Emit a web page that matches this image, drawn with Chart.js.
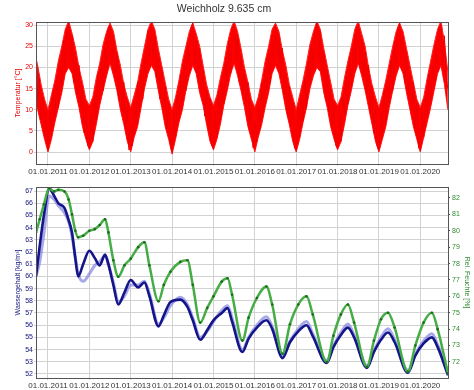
<!DOCTYPE html>
<html>
<head>
<meta charset="utf-8">
<script src="https://cdn.jsdelivr.net/npm/chart.js@4/dist/chart.umd.min.js"></script>
<style>
  body { margin: 0; background: #fff; }
  #wrap { position: relative; width: 474px; height: 390px; }
  canvas { position: absolute; left: 0; }
  #temp { top: 0; }
  #moist { top: 180px; }
</style>
</head>
<body>
<div id="wrap">
  <canvas id="temp" width="474" height="180"></canvas>
  <canvas id="moist" width="474" height="210"></canvas>
</div>
<script>
const title = 'Weichholz 9.635 cm';
const years = [2011, 2012, 2013, 2014, 2015, 2016, 2017, 2018, 2019, 2020];

// temperature, half-monthly readings starting mid September 2010
const tempStart = 2010 + 17 / 24;
const tempStep = 1 / 24;
const temperature = [
  21.5, 12.5, 17.5, 7.5, 13, 3.5, 9.5,
  0.5, 9.5, 3.5, 14.5, 8.5, 17.5, 10.5, 20.5, 15.5, 26.5, 19.5, 28.5, 30.5, 21.5, 27.5, 16.5, 22.5, 13.5, 20.5, 10.5, 15.5, 4.5, 10.5, 1.5,
  1, 9.5, 2.5, 13.5, 7.5, 18.5, 12.5, 21.5, 14.5, 24.5, 19.5, 29.5, 30, 20.5, 27.5, 18.5, 23.5, 12.5, 18.5, 9.5, 16.5, 5.5, 10.5, 0.5,
  6.5, 1.5, 11.5, 6.5, 16.5, 9.5, 19.5, 12.5, 22.5, 17.5, 28.5, 22.5, 30, 21.5, 27.5, 17.5, 22.5, 12.5, 19.5, 10.5, 15.5, 5.5, 11.5, 1.5,
  0, 9.5, 3.5, 13.5, 8.5, 18.5, 11.5, 20.5, 14.5, 25.5, 20.5, 29.5, 30.5, 20.5, 26.5, 17.5, 24.5, 14.5, 19.5, 8.5, 14.5, 5.5, 12.5, 1.5,
  1.5, 9.5, 3.5, 14.5, 7.5, 16.5, 11.5, 21.5, 16.5, 26.5, 18.5, 29.5, 30, 21.5, 27.5, 16.5, 22.5, 13.5, 19.5, 10.5, 16.5, 5.5, 10.5, 1,
  7.5, 2.5, 10.5, 5.5, 16.5, 9.5, 19.5, 14.5, 23.5, 16.5, 27.5, 21.5, 30, 22.5, 27.5, 17.5, 24.5, 13.5, 18.5, 8.5, 15.5, 6.5, 11.5, 1,
  0.5, 10.5, 3.5, 12.5, 7.5, 17.5, 10.5, 21.5, 16.5, 25.5, 19.5, 28.5, 30.5, 21.5, 28.5, 18.5, 23.5, 12.5, 19.5, 9.5, 14.5, 5.5, 11.5, 1.5,
  1, 9.5, 2.5, 13.5, 8.5, 17.5, 11.5, 22.5, 15.5, 24.5, 19.5, 29.5, 30, 20.5, 26.5, 17.5, 23.5, 14.5, 20.5, 9.5, 15.5, 4.5, 10.5, 1.5,
  0.5, 9.5, 3.5, 14.5, 7.5, 16.5, 11.5, 21.5, 14.5, 25.5, 20.5, 29.5, 30.5, 21.5, 27.5, 16.5, 23.5, 13.5, 18.5, 9.5, 16.5, 5.5, 11.5, 1,
  0.5, 9.5, 3.5, 13.5, 8.5, 18.5, 11.5, 20.5, 15.5, 25.5, 19.5, 29.5, 30, 20.5, 27.5, 17.5, 15
];

// daily range of the temperature, monthly from 01.09.2010
const rangeStart = 2010 + 8 / 12;
const rangeStep = 1 / 12;
const tempHigh = [
  24, 20.5, 16, 12.5,
  10, 13.5, 17, 21.5, 25, 29, 31, 28, 24.5, 20, 16.5, 12.5,
  11, 13, 17.5, 21, 25.5, 28.5, 30.5, 28.5, 24, 20.5, 16, 13,
  10.5, 13.5, 16.5, 21, 25, 29, 31, 29, 24.5, 20.5, 16.5, 12.5,
  10, 13, 17, 21.5, 25, 28.5, 30.5, 28, 25, 20.5, 16, 13,
  11, 13.5, 17.5, 21, 25.5, 29, 31, 28.5, 24.5, 20, 16.5, 12.5,
  10.5, 13, 17, 21.5, 25, 29, 30.5, 28.5, 24, 20.5, 16, 13,
  10, 13.5, 17, 21, 25.5, 28.5, 31, 29, 24.5, 20.5, 16.5, 12.5,
  11, 13, 17.5, 21.5, 25, 29, 31, 28, 25, 20, 16, 13,
  10.5, 13.5, 17, 21, 25, 28.5, 30.5, 28.5, 24.5, 20.5, 16.5, 12.5,
  10.5, 13, 17.5, 21.5, 25.5, 29, 31, 26, 19
];
const tempLow = [
  14, 10, 6.5, 3,
  0, 3, 7, 10.5, 14, 18.5, 20, 18.5, 14, 10.5, 6, 3,
  0.5, 2.5, 6.5, 11, 14.5, 18, 21, 18, 14.5, 10, 6.5, 2.5,
  0, 3.5, 6, 10.5, 15, 18.5, 20.5, 19, 14.5, 10.5, 6, 3,
  -0.5, 3, 7, 10, 14.5, 18, 20.5, 18.5, 14, 11, 6.5, 2.5,
  0.5, 3, 6.5, 11, 14.5, 18.5, 21, 18, 14.5, 10.5, 6, 3,
  0, 3.5, 6.5, 10.5, 14, 18.5, 20.5, 18.5, 14.5, 10, 6.5, 2.5,
  0, 3, 7, 10.5, 15, 18, 20, 19, 14, 10.5, 6, 3,
  0.5, 2.5, 6.5, 11, 14.5, 18.5, 21, 18, 14.5, 10.5, 6.5, 2.5,
  0, 3, 6, 10.5, 14.5, 18, 20.5, 18.5, 14, 10, 6, 3,
  0, 3.5, 7, 10.5, 14.5, 18.5, 20.5, 16, 10
];

// moisture / humidity, times in decimal years
const moistTime = [
  2010.71, 2010.80, 2010.90, 2011.03, 2011.15, 2011.25, 2011.40, 2011.50, 2011.58, 2011.66,
  2011.73, 2011.85, 2012.00, 2012.13, 2012.25, 2012.38, 2012.46, 2012.58, 2012.70, 2012.85,
  2013.00, 2013.18, 2013.33, 2013.45, 2013.67, 2013.80, 2013.96, 2014.20, 2014.37, 2014.50,
  2014.68, 2014.85, 2015.00, 2015.20, 2015.34, 2015.45, 2015.70, 2015.85, 2016.05, 2016.28,
  2016.42, 2016.67, 2016.85, 2017.05, 2017.25, 2017.40, 2017.74, 2017.90, 2018.08, 2018.25,
  2018.40, 2018.71, 2018.88, 2019.05, 2019.22, 2019.38, 2019.70, 2019.88, 2020.08, 2020.28,
  2020.42, 2020.67
];
const waterContent = [
  60.0, 62.5, 65.0, 67.2, 66.6, 66.0, 65.6, 64.6, 63.6, 61.5,
  60.0, 61.0, 62.1, 61.5, 60.9, 61.8, 61.0, 59.3, 57.7, 58.7,
  59.7, 59.1, 59.5, 58.4, 55.9, 56.8, 57.9, 58.1, 57.5, 56.4,
  54.8, 55.6, 56.4, 57.0, 57.4, 56.3, 53.8, 54.9, 55.8, 56.4,
  55.7, 53.3, 54.6, 55.5, 56.0, 55.1, 52.9, 54.2, 55.2, 55.8,
  55.0, 52.5, 53.8, 54.8, 55.4, 54.6, 52.1, 53.5, 54.5, 55.0,
  54.2, 51.9
];
const waterContent2 = [
  60.0, 61.2, 63.5, 66.6, 66.3, 65.8, 65.2, 64.5, 63.3, 61.6,
  60.2, 59.6, 60.2, 60.9, 61.2, 61.7, 61.0, 59.5, 57.9, 58.4,
  59.3, 59.3, 59.6, 58.6, 56.1, 56.6, 57.6, 58.3, 57.7, 56.6,
  55.0, 55.5, 56.3, 57.2, 57.6, 56.6, 54.0, 55.0, 56.0, 56.7,
  55.9, 53.5, 54.7, 55.7, 56.3, 55.3, 53.1, 54.3, 55.4, 56.1,
  55.2, 52.7, 53.9, 55.0, 55.7, 54.8, 52.3, 53.6, 54.7, 55.3,
  54.4, 52.1
];
const relHumidity = [
  79.9, 80.7, 81.6, 82.6, 82.4, 82.5, 82.4, 81.9, 81.0, 80.0,
  79.6, 79.7, 80.0, 80.1, 80.35, 80.7, 79.9, 78.2, 77.2, 77.9,
  78.3, 79.0, 79.3, 77.9, 75.7, 76.7, 77.5, 78.1, 78.2, 76.7,
  74.4, 75.3, 76.0, 76.9, 77.1, 76.1, 73.3, 74.7, 75.9, 76.6,
  75.5, 72.5, 74.3, 75.5, 76.0, 74.9, 72.0, 73.6, 74.9, 75.5,
  74.4, 71.7, 73.3, 74.6, 75.0, 74.1, 71.4, 73.0, 74.4, 75.0,
  74.0, 71.3
];
const tempTicks = [0, 5, 10, 15, 20, 25, 30];
const waterTicks = [52, 53, 54, 55, 56, 57, 58, 59, 60, 61, 62, 63, 64, 65, 66, 67];
const humidityTicks = [72, 73, 74, 75, 76, 77, 78, 79, 80, 81, 82];

Chart.defaults.font.family = '"Liberation Sans", Arial, sans-serif';

const frame = {
  id: 'frame',
  afterDraw(chart) {
    const { ctx, chartArea: a } = chart;
    ctx.save();
    ctx.strokeStyle = '#555';
    ctx.lineWidth = 1;
    ctx.strokeRect(Math.round(a.left) + 0.5, Math.round(a.top) + 0.5,
      Math.round(a.right - a.left), Math.round(a.bottom - a.top));
    ctx.restore();
  }
};

const xAxis = (height) => ({
  type: 'linear',
  min: 2010.71,
  max: 2020.67,
  afterBuildTicks: s => { s.ticks = years.map(v => ({ value: v })); },
  afterFit: s => { s.height = height; },
  grid: { color: '#d2d2d2', tickLength: 2 },
  border: { color: '#555' },
  ticks: {
    autoSkip: false, maxRotation: 0, padding: 1,
    font: { size: 8 }, color: '#333',
    callback: v => '01.01.' + v
  }
});

const pts = (xs, ys) => ys.map((y, i) => ({ x: xs[i], y }));
const series = (start, step, ys) => ys.map((y, i) => ({ x: start + i * step, y }));

new Chart(document.getElementById('temp').getContext('2d'), {
  type: 'line',
  data: {
    datasets: [{
      label: 'Temperatur',
      data: series(tempStart, tempStep, temperature),
      borderColor: '#f00000',
      borderWidth: 1,
      pointRadius: 0,
      tension: 0
    }, {
      label: 'max',
      data: series(rangeStart, rangeStep, tempHigh),
      borderColor: '#ff2020',
      backgroundColor: '#ff0000',
      borderWidth: 1,
      pointRadius: 0,
      fill: '+1',
      tension: 0
    }, {
      label: 'min',
      data: series(rangeStart, rangeStep, tempLow),
      borderColor: '#ff2020',
      borderWidth: 1,
      pointRadius: 0,
      tension: 0
    }]
  },
  options: {
    responsive: false,
    animation: false,
    devicePixelRatio: 1,
    layout: { padding: { left: 0, right: 26, top: 0, bottom: 0 } },
    plugins: {
      legend: { display: false },
      tooltip: { enabled: false },
      title: {
        display: true, text: title, color: '#333',
        font: { size: 10.5, weight: 'normal' },
        padding: { top: 3, bottom: 6.5 }
      }
    },
    scales: {
      x: xAxis(16),
      y: {
        min: -2.83,
        max: 30.71,
        afterBuildTicks: s => { s.ticks = tempTicks.map(v => ({ value: v })); },
        afterFit: s => { s.width = 36; },
        grid: { color: '#d2d2d2', tickLength: 2 },
        border: { color: '#555' },
        ticks: { font: { size: 7 }, color: '#e00000', padding: 1 },
        title: {
          display: true, text: 'Temperatur [°C]', color: '#e00000',
          font: { size: 7 }, padding: { top: 14 }
        }
      }
    }
  },
  plugins: [frame]
});

new Chart(document.getElementById('moist').getContext('2d'), {
  type: 'line',
  data: {
    datasets: [{
      label: 'Rel. Feuchte',
      data: pts(moistTime, relHumidity),
      yAxisID: 'y1',
      borderColor: '#46ad46',
      borderWidth: 2.5,
      pointRadius: 1.3,
      pointBorderWidth: 0,
      pointBackgroundColor: '#1d6a1d',
      cubicInterpolationMode: 'monotone',
      order: 0
    }, {
      label: 'Wassergehalt',
      data: pts(moistTime, waterContent),
      yAxisID: 'y',
      borderColor: '#15158a',
      borderWidth: 2.6,
      pointRadius: 0,
      cubicInterpolationMode: 'monotone',
      order: 1
    }, {
      label: 'Wassergehalt 2',
      data: pts(moistTime, waterContent2),
      yAxisID: 'y',
      borderColor: 'rgba(130,130,225,0.7)',
      borderWidth: 3,
      pointRadius: 0,
      cubicInterpolationMode: 'monotone',
      order: 2
    }]
  },
  options: {
    responsive: false,
    animation: false,
    devicePixelRatio: 1,
    layout: { padding: { left: 0, right: 0, top: 7, bottom: 0 } },
    plugins: {
      legend: { display: false },
      tooltip: { enabled: false }
    },
    scales: {
      x: xAxis(12),
      y: {
        position: 'left',
        min: 51.67,
        max: 67.33,
        afterBuildTicks: s => { s.ticks = waterTicks.map(v => ({ value: v })); },
        afterFit: s => { s.width = 36; },
        grid: { color: '#d2d2d2', tickLength: 2 },
        border: { color: '#555' },
        ticks: { font: { size: 7 }, color: '#12127a', padding: 1 },
        title: {
          display: true, text: 'Wassergehalt [kg/m³]', color: '#12127a',
          font: { size: 7 }, padding: { top: 14 }
        }
      },
      y1: {
        position: 'right',
        min: 71.02,
        max: 82.67,
        afterBuildTicks: s => { s.ticks = humidityTicks.map(v => ({ value: v })); },
        afterFit: s => { s.width = 26; },
        grid: { drawOnChartArea: false, tickLength: 2, color: '#555' },
        border: { color: '#555' },
        ticks: { font: { size: 7 }, color: '#2e8b2e', padding: 2 },
        title: {
          display: true, text: 'Rel. Feuchte [%]', color: '#2e8b2e',
          font: { size: 7 }, padding: { top: 3 }
        }
      }
    }
  },
  plugins: [frame]
});
</script>
</body>
</html>
